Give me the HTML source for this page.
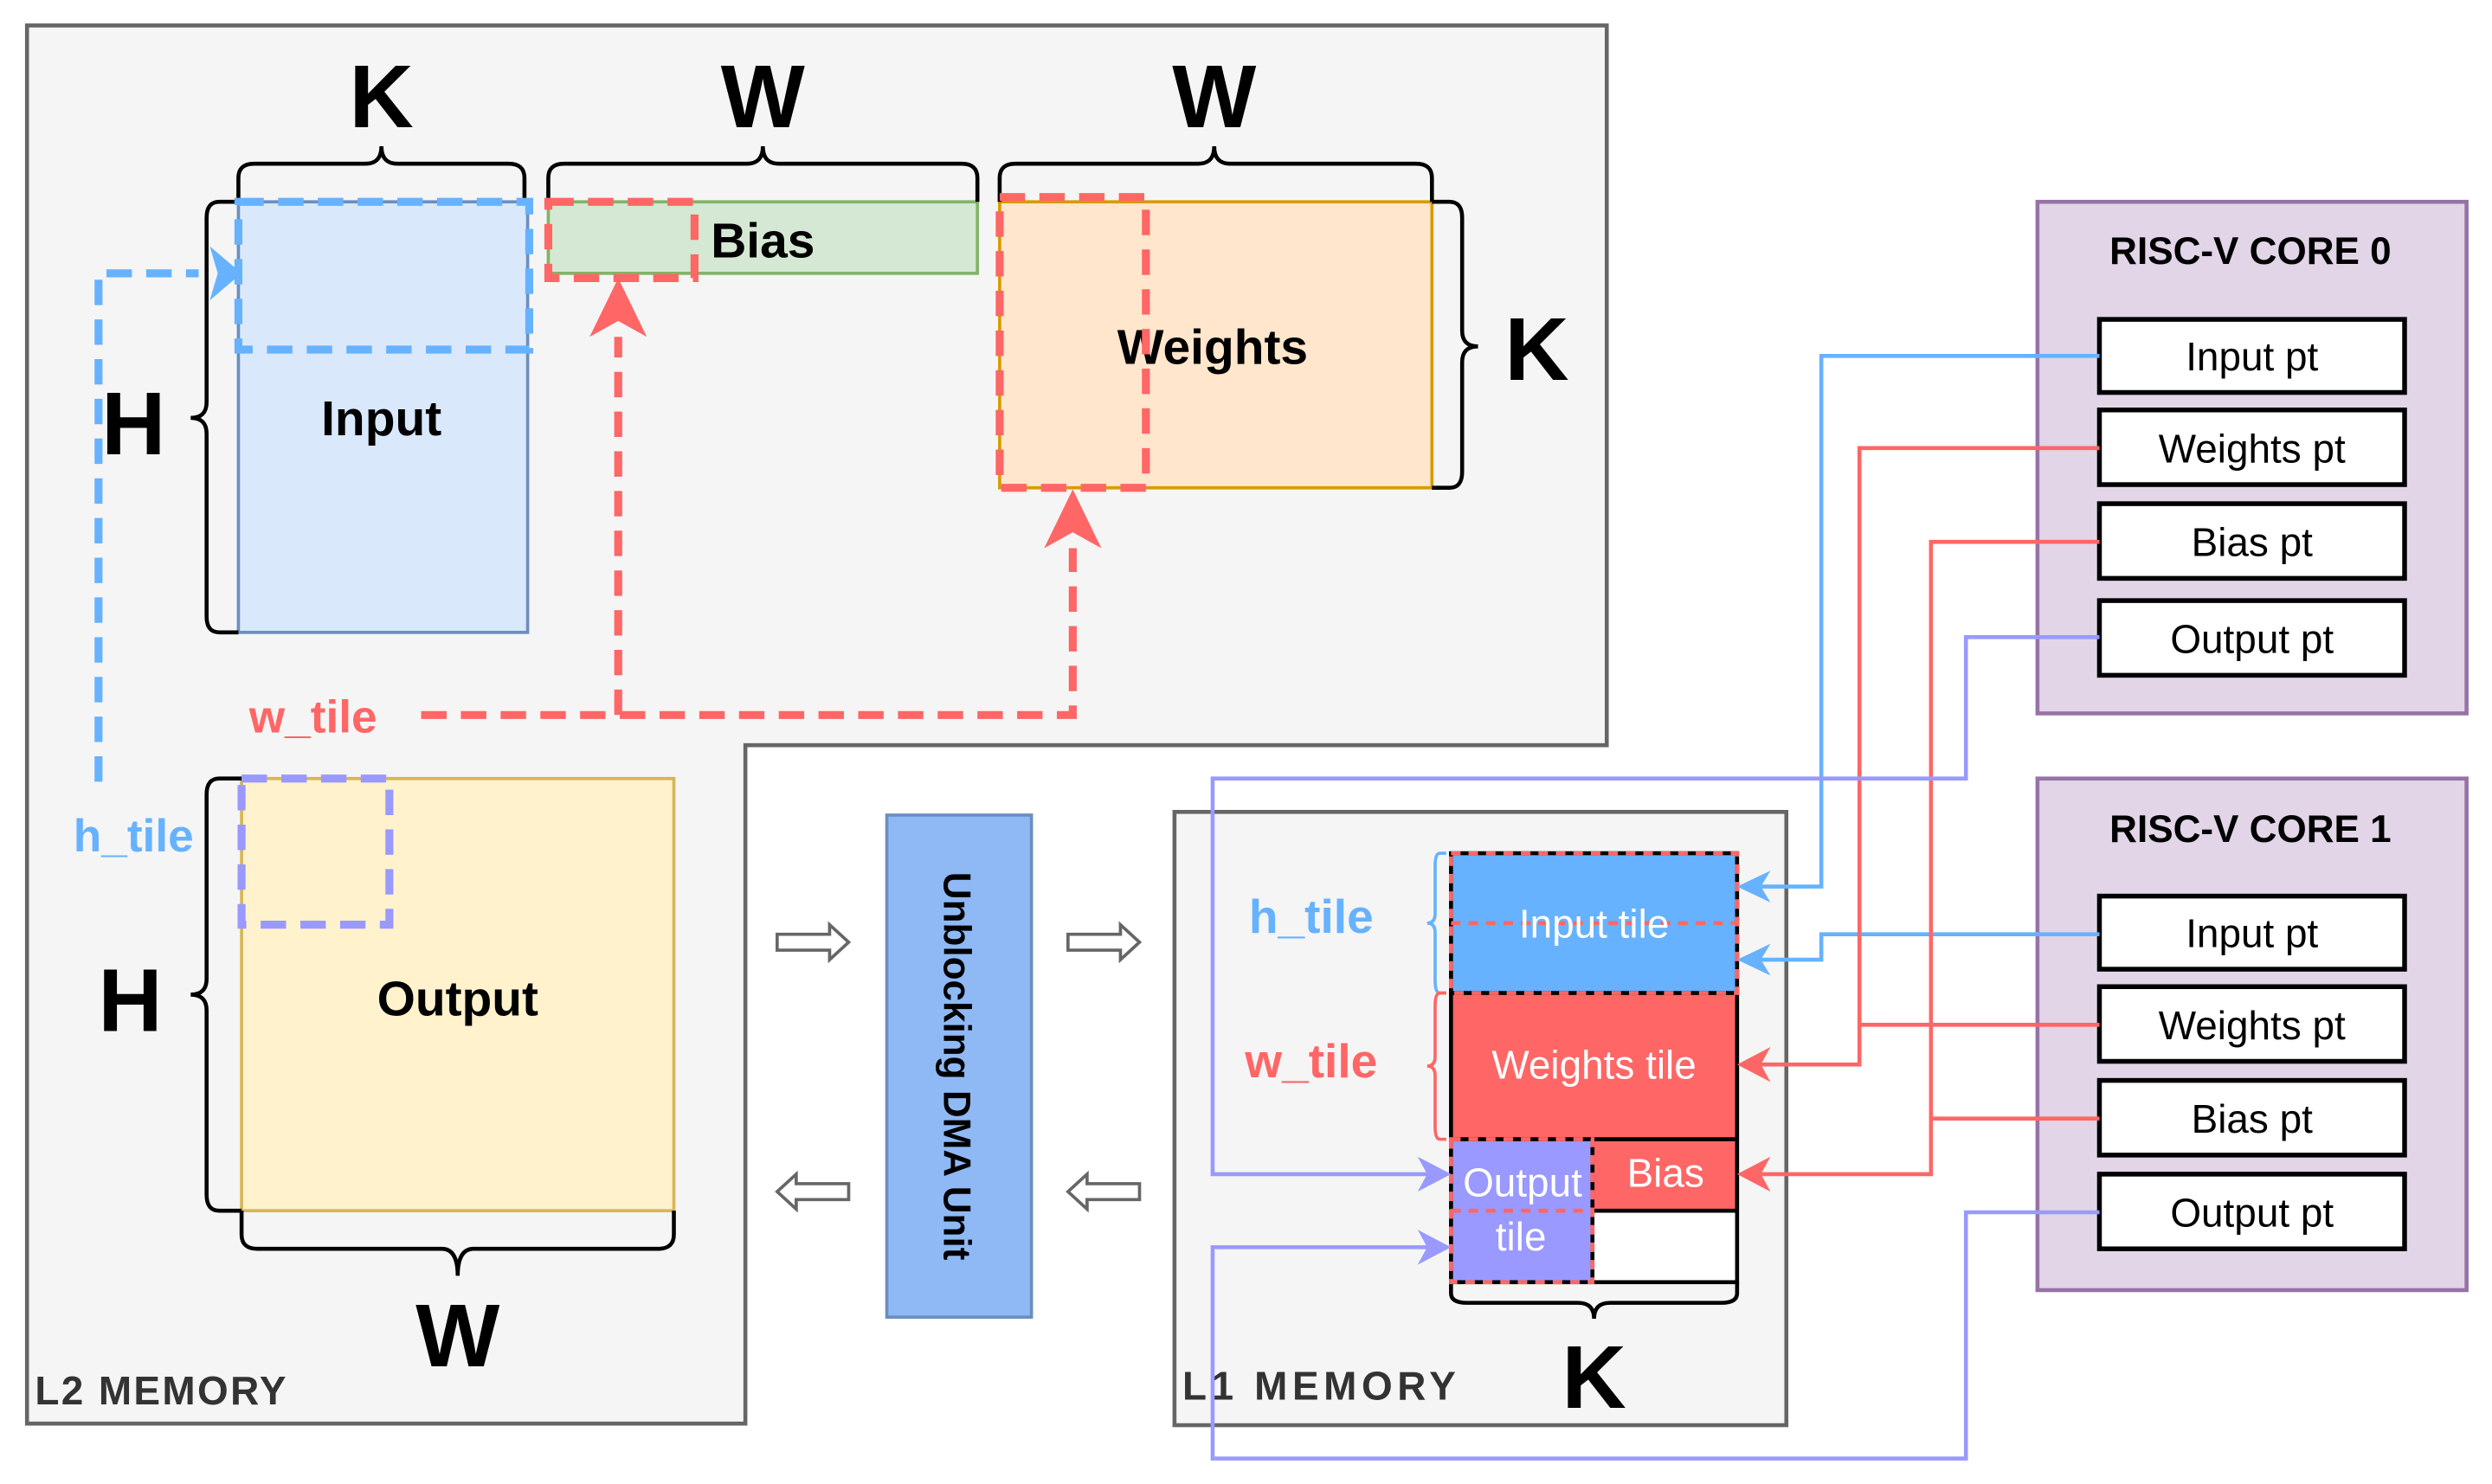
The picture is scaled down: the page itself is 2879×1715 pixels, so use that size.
<!DOCTYPE html>
<html><head><meta charset="utf-8"><style>
html,body{margin:0;padding:0;background:#fff;width:2879px;height:1715px;overflow:hidden}
svg{display:block}
text{font-family:"Liberation Sans",sans-serif}
</style></head><body>
<svg width="2879" height="1715" viewBox="0 0 1568 934" xmlns="http://www.w3.org/2000/svg">
<!-- L2 memory -->
<path d="M17,16 H1011 V469 H469 V896 H17 Z" fill="#f5f5f5" stroke="#666" stroke-width="2.5"/>
<text x="22" y="884" font-size="25" font-weight="bold" fill="#333" textLength="158">L2 MEMORY</text>

<rect x="150" y="127" width="182" height="271" fill="#dae8fc" stroke="#6c8ebf" stroke-width="2"/>
<text x="240" y="274" font-size="31" font-weight="bold" text-anchor="middle">Input</text>
<rect x="345" y="127" width="270" height="45" fill="#d5e8d4" stroke="#82b366" stroke-width="2"/>
<text x="480" y="162" font-size="31" font-weight="bold" text-anchor="middle">Bias</text>
<rect x="629" y="127" width="272" height="180" fill="#ffe6cc" stroke="#d79b00" stroke-width="2"/>
<text x="763" y="229" font-size="31" font-weight="bold" text-anchor="middle">Weights</text>
<rect x="152" y="490" width="272" height="272" fill="#fff2cc" stroke="#d6b656" stroke-width="2"/>
<text x="288" y="639" font-size="31" font-weight="bold" text-anchor="middle">Output</text>

<g fill="none" stroke="#000" stroke-width="2.5">
<path d="M150,127 V112 Q150,103 160,103 H230 Q240,103 240,92 Q240,103 250,103 H320 Q330,103 330,112 V127"/>
<path d="M345,127 V112 Q345,103 355,103 H470 Q480,103 480,92 Q480,103 490,103 H605 Q615,103 615,112 V127"/>
<path d="M629,127 V112 Q629,103 639,103 H754 Q764,103 764,92 Q764,103 774,103 H891 Q901,103 901,112 V127"/>
<path d="M901,127 H912 Q920,127 920,137 V208 Q920,218 930,218 Q920,218 920,228 V297 Q920,307 912,307 H901"/>
<path d="M150,127 H138 Q130,127 130,137 V253 Q130,263 120,263 Q130,263 130,273 V388 Q130,398 138,398 H150"/>
<path d="M152,490 H138 Q130,490 130,500 V616 Q130,626 120,626 Q130,626 130,636 V752 Q130,762 138,762 H152"/>
<path d="M152,762 V777 Q152,786 162,786 H278 Q288,786 288,803 Q288,786 298,786 H414 Q424,786 424,777 V762"/>
</g>
<g font-size="56" font-weight="bold" text-anchor="middle">
<text x="240" y="80">K</text>
<text x="480" y="80">W</text>
<text x="764" y="80">W</text>
<text x="967" y="239">K</text>
<text x="84" y="286">H</text>
<text x="82" y="649">H</text>
<text x="288" y="860">W</text>
</g>

<!-- blue dashed -->
<g fill="none" stroke="#66b2ff" stroke-width="5" stroke-dasharray="16,9">
<rect x="150" y="127" width="183" height="93"/>
<path d="M62,492 V172 H125"/>
</g>
<path d="M152,172 L132,155 L137,172 L132,189 Z" fill="#66b2ff"/>
<text x="84" y="536" font-size="29" font-weight="bold" fill="#66b2ff" text-anchor="middle">h_tile</text>

<!-- red dashed -->
<g fill="none" stroke="#ff6666" stroke-width="5" stroke-dasharray="16,9">
<rect x="345" y="127" width="92" height="48"/>
<rect x="629" y="124" width="92" height="183"/>
<path d="M265,450 H675 V345"/>
<path d="M389,450 V212"/>
</g>
<path d="M389,175 L371,212 L389,202 L407,212 Z" fill="#ff6666"/>
<path d="M675,308 L657,345 L675,335 L693,345 Z" fill="#ff6666"/>
<text x="197" y="461" font-size="29" font-weight="bold" fill="#ff6666" text-anchor="middle">w_tile</text>

<rect x="152" y="490" width="93" height="92" fill="none" stroke="#9999ff" stroke-width="5" stroke-dasharray="16,9"/>

<!-- DMA -->
<rect x="558" y="513" width="91" height="316" fill="#8fb9f5" stroke="#6c8ebf" stroke-width="2"/>
<text transform="translate(594,671) rotate(90)" font-size="24" font-weight="bold" text-anchor="middle">Unblocking DMA Unit</text>
<g fill="#fff" stroke="#666" stroke-width="2">
<path d="M489,588 H522 V582 L534,593 L522,604 V598 H489 Z"/>
<path d="M672,588 H705 V582 L717,593 L705,604 V598 H672 Z"/>
<path d="M534,745 H501 V739 L489,750 L501,761 V755 H534 Z"/>
<path d="M717,745 H684 V739 L672,750 L684,761 V755 H717 Z"/>
</g>

<!-- L1 -->
<rect x="739" y="511" width="385" height="386" fill="#f5f5f5" stroke="#666" stroke-width="2.5"/>
<text x="744" y="881" font-size="25" font-weight="bold" fill="#333" textLength="172">L1 MEMORY</text>
<rect x="913" y="537" width="180" height="88" fill="#66b2ff"/>
<rect x="913" y="625" width="180" height="92" fill="#ff6666"/>
<rect x="913" y="717" width="89" height="90" fill="#9999ff"/>
<rect x="1002" y="717" width="91" height="45" fill="#ff6666"/>
<rect x="1002" y="762" width="91" height="45" fill="#fff"/>
<g fill="none" stroke="#000" stroke-width="2.5">
<rect x="913" y="537" width="180" height="270"/>
<path d="M913,625 H1093 M913,717 H1093 M1002,717 V807 M1002,762 H1093"/>
<path d="M913,807 V814 Q913,820 923,820 H993 Q1003,820 1003,830 Q1003,820 1013,820 H1083 Q1093,820 1093,814 V807"/>
</g>
<text x="1003" y="886" font-size="56" font-weight="bold" text-anchor="middle">K</text>
<g fill="none" stroke="#ff6666" stroke-width="2.5" stroke-dasharray="6,5">
<rect x="913" y="537" width="180" height="88"/>
<path d="M913,581 H1093"/>
<rect x="913" y="717" width="89" height="90"/>
<path d="M913,762 H1002"/>
</g>
<g fill="#fff" font-size="25" text-anchor="middle">
<text x="1003" y="590">Input tile</text>
<text x="1003" y="679">Weights tile</text>
<text x="958" y="753">Output</text>
<text x="957" y="787">tile</text>
<text x="1048" y="747">Bias</text>
</g>
<path d="M910,537 H906 Q903,537 903,545 V575 Q903,581 898,581 Q903,581 903,587 V617 Q903,625 906,625 H910" fill="none" stroke="#66b2ff" stroke-width="2"/>
<path d="M910,625 H906 Q903,625 903,633 V665 Q903,671 898,671 Q903,671 903,677 V709 Q903,717 906,717 H910" fill="none" stroke="#ff6666" stroke-width="2"/>
<text x="825" y="587" font-size="30" font-weight="bold" fill="#66b2ff" text-anchor="middle">h_tile</text>
<text x="825" y="678" font-size="30" font-weight="bold" fill="#ff6666" text-anchor="middle">w_tile</text>

<!-- cores -->
<rect x="1282" y="127" width="270" height="322" fill="#e1d5e7" stroke="#9673a6" stroke-width="2.5"/>
<rect x="1282" y="490" width="270" height="322" fill="#e1d5e7" stroke="#9673a6" stroke-width="2.5"/>
<text x="1416" y="166" font-size="24" font-weight="bold" text-anchor="middle">RISC-V CORE 0</text>
<text x="1416" y="530" font-size="24" font-weight="bold" text-anchor="middle">RISC-V CORE 1</text>
<g fill="#fff" stroke="#000" stroke-width="3">
<rect x="1321" y="201" width="192" height="46"/><rect x="1321" y="258" width="192" height="47"/>
<rect x="1321" y="317" width="192" height="47"/><rect x="1321" y="378" width="192" height="47"/>
<rect x="1321" y="564" width="192" height="46"/><rect x="1321" y="621" width="192" height="47"/>
<rect x="1321" y="680" width="192" height="47"/><rect x="1321" y="739" width="192" height="47"/>
</g>
<g font-size="25" text-anchor="middle">
<text x="1417" y="233">Input pt</text><text x="1417" y="291">Weights pt</text>
<text x="1417" y="350">Bias pt</text><text x="1417" y="411">Output pt</text>
<text x="1417" y="596">Input pt</text><text x="1417" y="654">Weights pt</text>
<text x="1417" y="713">Bias pt</text><text x="1417" y="772">Output pt</text>
</g>

<!-- connectors -->
<g fill="none" stroke-width="2.5">
<path d="M1321,224 H1146 V558 H1105" stroke="#66b2ff"/>
<path d="M1321,588 H1146 V604 H1105" stroke="#66b2ff"/>
<path d="M1321,282 H1170 V670 H1105 M1321,645 H1170" stroke="#ff6666"/>
<path d="M1321,341 H1215 V739 H1105 M1321,704 H1215" stroke="#ff6666"/>
<path d="M1321,401 H1237 V490 H763 V739 H900" stroke="#9999ff"/>
<path d="M1321,763 H1237 V918 H763 V785 H900" stroke="#9999ff"/>
</g>
<path d="M1093,558 L1114,548 L1108,558 L1114,568 Z" fill="#66b2ff"/>
<path d="M1093,604 L1114,594 L1108,604 L1114,614 Z" fill="#66b2ff"/>
<path d="M1093,670 L1114,659 L1108,670 L1114,681 Z" fill="#ff6666"/>
<path d="M1093,739 L1114,728 L1108,739 L1114,750 Z" fill="#ff6666"/>
<path d="M913,739 L892,728 L898,739 L892,750 Z" fill="#9999ff"/>
<path d="M913,785 L892,774 L898,785 L892,796 Z" fill="#9999ff"/>
</svg>
</body></html>
